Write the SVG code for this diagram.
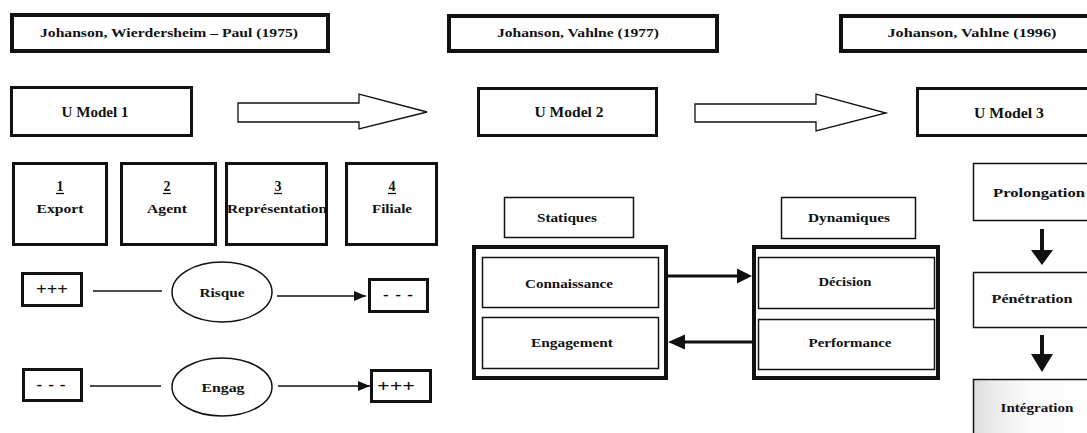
<svg xmlns="http://www.w3.org/2000/svg" width="1087" height="433" viewBox="0 0 1087 433">
  <style>
    text { font-family: "Liberation Serif", "Times New Roman", serif; font-weight: bold; font-size: 13px; fill: #111; text-anchor: middle; }
    .big { font-size: 15px; }
    .num { font-size: 14px; }
    .sign { font-size: 17px; }
    .box { fill: #fff; stroke: #111; }
    .heavy { stroke-width: 4; }
    .mid { stroke-width: 3; }
    .thin { stroke-width: 1.5; }
    .line { stroke: #111; stroke-width: 1.3; fill: none; }
    .thick { stroke: #111; stroke-width: 3; fill: none; }
    .block { fill: #fff; stroke: #111; stroke-width: 1.3; stroke-linejoin: miter; }
    .head { fill: #111; }
  </style>
  <defs>
    <marker id="tri" viewBox="0 0 12 10" refX="12" refY="5" markerWidth="12" markerHeight="10" markerUnits="userSpaceOnUse" orient="auto">
      <path d="M0,0 L12,5 L0,10 Z" fill="#111"/>
    </marker>
    <linearGradient id="speckle" x1="0" y1="0" x2="1" y2="0">
      <stop offset="0" stop-color="#dcdcdc"/>
      <stop offset="0.18" stop-color="#eeeeee"/>
      <stop offset="0.45" stop-color="#fbfbfb"/>
      <stop offset="1" stop-color="#ffffff"/>
    </linearGradient>
  </defs>

  <!-- authors / dates -->
  <g id="ref-1975">
    <rect class="box heavy" x="12" y="15" width="316" height="36"/>
    <text x="169" y="37" textLength="258" lengthAdjust="spacingAndGlyphs">Johanson, Wierdersheim – Paul (1975)</text>
  </g>
  <g id="ref-1977">
    <rect class="box heavy" x="449" y="16" width="268" height="35"/>
    <text x="578" y="37" textLength="162" lengthAdjust="spacingAndGlyphs">Johanson, Vahlne (1977)</text>
  </g>
  <g id="ref-1996">
    <rect class="box heavy" x="841" y="16" width="262" height="35"/>
    <text x="972" y="37" textLength="169" lengthAdjust="spacingAndGlyphs">Johanson, Vahlne (1996)</text>
  </g>

  <!-- model titles -->
  <g id="umodel-1">
    <rect class="box mid" x="11.5" y="87.5" width="180" height="48"/>
    <text class="big" x="95" y="117" textLength="67" lengthAdjust="spacingAndGlyphs">U Model 1</text>
  </g>
  <g id="umodel-2">
    <rect class="box mid" x="478.5" y="88.5" width="178" height="47"/>
    <text class="big" x="569" y="117" textLength="69" lengthAdjust="spacingAndGlyphs">U Model 2</text>
  </g>
  <g id="umodel-3">
    <rect class="box mid" x="917.5" y="88.5" width="190" height="47"/>
    <text class="big" x="1009" y="118" textLength="70" lengthAdjust="spacingAndGlyphs">U Model 3</text>
  </g>

  <!-- block arrows between models -->
  <g id="block-arrows">
    <path class="block" d="M238,103 L359,103 L359,94 L427,112 L359,129 L359,122 L238,122 Z"/>
    <path class="block" d="M695,104 L816,104 L816,94 L886,113 L816,131 L816,122 L695,122 Z"/>
  </g>

  <!-- model 1 stages -->
  <g id="stage-1">
    <rect class="box mid" x="13.5" y="163.5" width="93" height="81"/>
    <text class="num" x="60" y="191">1</text>
    <line class="line" x1="56" y1="193.5" x2="64" y2="193.5"/>
    <text x="60" y="213" textLength="47" lengthAdjust="spacingAndGlyphs">Export</text>
  </g>
  <g id="stage-2">
    <rect class="box mid" x="121.5" y="163.5" width="94" height="81"/>
    <text class="num" x="167" y="191">2</text>
    <line class="line" x1="163" y1="193.5" x2="171" y2="193.5"/>
    <text x="167" y="213" textLength="40" lengthAdjust="spacingAndGlyphs">Agent</text>
  </g>
  <g id="stage-3">
    <rect class="box mid" x="226.5" y="163.5" width="100" height="81"/>
    <text class="num" x="278" y="191">3</text>
    <line class="line" x1="274" y1="193.5" x2="282" y2="193.5"/>
    <text x="277" y="213" textLength="100" lengthAdjust="spacingAndGlyphs">Représentation</text>
  </g>
  <g id="stage-4">
    <rect class="box mid" x="346.5" y="163.5" width="90" height="81"/>
    <text class="num" x="392" y="191">4</text>
    <line class="line" x1="388" y1="193.5" x2="396" y2="193.5"/>
    <text x="392" y="213" textLength="40" lengthAdjust="spacingAndGlyphs">Filiale</text>
  </g>

  <!-- risk / commitment rows -->
  <g id="risk-high">
    <rect class="box mid" x="22.5" y="273.5" width="59" height="32"/>
    <text class="sign" x="52" y="295" textLength="32" lengthAdjust="spacingAndGlyphs">+++</text>
  </g>
  <g id="risque">
    <ellipse class="box thin" cx="222" cy="292" rx="50" ry="30"/>
    <text x="222" y="297" textLength="45" lengthAdjust="spacingAndGlyphs">Risque</text>
  </g>
  <g id="risk-low">
    <rect class="box mid" x="369.5" y="279.5" width="58" height="32"/>
    <text class="sign" x="398" y="300" textLength="30" lengthAdjust="spacing">---</text>
  </g>
  <g id="engag-low">
    <rect class="box mid" x="23.5" y="369.5" width="58" height="31"/>
    <text class="sign" x="51" y="390" textLength="29" lengthAdjust="spacing">---</text>
  </g>
  <g id="engag">
    <ellipse class="box thin" cx="222" cy="387" rx="50" ry="29"/>
    <text x="223" y="392" textLength="43" lengthAdjust="spacingAndGlyphs">Engag</text>
  </g>
  <g id="engag-high">
    <rect class="box mid" x="371.5" y="370.5" width="59" height="31"/>
    <text class="sign" x="396" y="392" textLength="38" lengthAdjust="spacingAndGlyphs">+++</text>
  </g>

  <!-- model 2 -->
  <g id="statiques">
    <rect class="box thin" x="504.5" y="197.5" width="129" height="40"/>
    <text x="567" y="222" textLength="60" lengthAdjust="spacingAndGlyphs">Statiques</text>
  </g>
  <g id="dynamiques">
    <rect class="box thin" x="781.5" y="197.5" width="134" height="41"/>
    <text x="849" y="222" textLength="82" lengthAdjust="spacingAndGlyphs">Dynamiques</text>
  </g>
  <g id="static-group">
    <rect class="box heavy" x="474" y="247" width="192" height="131"/>
    <rect class="box thin" x="482.5" y="257.5" width="176" height="50"/>
    <text x="569" y="288" textLength="88" lengthAdjust="spacingAndGlyphs">Connaissance</text>
    <rect class="box thin" x="482.5" y="317.5" width="176" height="51"/>
    <text x="572" y="347" textLength="82" lengthAdjust="spacingAndGlyphs">Engagement</text>
  </g>
  <g id="dynamic-group">
    <rect class="box heavy" x="754" y="247" width="184" height="131"/>
    <rect class="box thin" x="758.5" y="257.5" width="176" height="51"/>
    <text x="845" y="286" textLength="53" lengthAdjust="spacingAndGlyphs">Décision</text>
    <rect class="box thin" x="758.5" y="319.5" width="176" height="50"/>
    <text x="850" y="347" textLength="83" lengthAdjust="spacingAndGlyphs">Performance</text>
  </g>

  <!-- model 3 -->
  <g id="prolongation">
    <rect class="box thin" x="973.5" y="163.5" width="130" height="57"/>
    <text x="1039" y="197" textLength="92" lengthAdjust="spacingAndGlyphs">Prolongation</text>
  </g>
  <g id="penetration">
    <rect class="box thin" x="973.5" y="272.5" width="130" height="55"/>
    <text x="1032" y="303" textLength="81" lengthAdjust="spacingAndGlyphs">Pénétration</text>
  </g>
  <g id="integration">
    <rect x="973.5" y="379.5" width="130" height="60" fill="url(#speckle)" stroke="#111" stroke-width="1.5"/>
    <text x="1037" y="412" textLength="73" lengthAdjust="spacingAndGlyphs">Intégration</text>
  </g>

  <!-- connectors -->
  <g id="connectors">
    <line class="line" x1="93" y1="291" x2="162" y2="291"/>
    <line class="line" x1="277" y1="296" x2="366" y2="296" marker-end="url(#tri)"/>
    <line class="line" x1="90" y1="386" x2="161" y2="386"/>
    <line class="line" x1="278" y1="386" x2="370" y2="386" marker-end="url(#tri)"/>

    <line class="thick" x1="668" y1="276" x2="740" y2="276"/>
    <path class="head" d="M752,276 L737,268.5 L737,283.5 Z"/>
    <line class="thick" x1="752" y1="342" x2="682" y2="342"/>
    <path class="head" d="M668,342 L685,334.5 L685,349.5 Z"/>

    <line stroke="#111" stroke-width="4" x1="1042" y1="229" x2="1042" y2="252"/>
    <path class="head" d="M1042,265 L1031,250 L1053,250 Z"/>
    <line stroke="#111" stroke-width="4" x1="1042" y1="335" x2="1042" y2="356"/>
    <path class="head" d="M1042,372 L1031,354 L1053,354 Z"/>
  </g>
</svg>
